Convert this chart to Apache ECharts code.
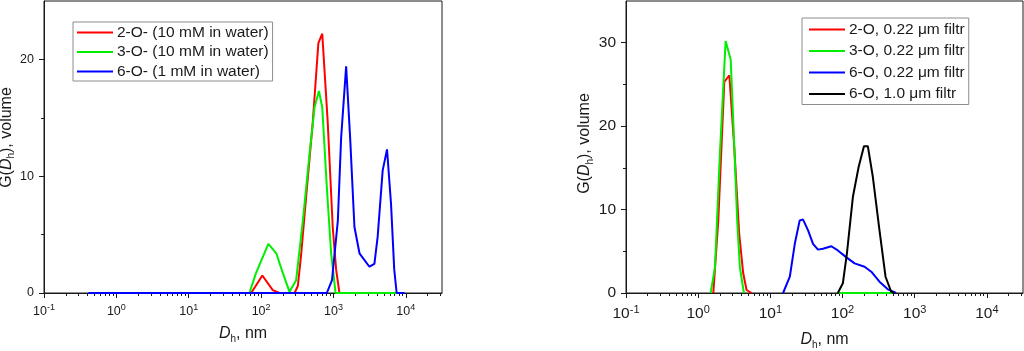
<!DOCTYPE html>
<html>
<head>
<meta charset="utf-8">
<script src="https://cdn.jsdelivr.net/npm/echarts@6/dist/echarts.min.js"></script>
<style>
  html, body { margin: 0; padding: 0; background: #fff; }
  #chart { width: 1024px; height: 351px; }
</style>
</head>
<body>
<div id="chart"></div>
<script>
// left panel: solutions in water (Dh in nm, G volume)
var leftRedD = [73, 104, 145, 180, 290, 322, 359, 420, 519, 619, 700, 832, 977, 1089, 1210];
var leftRedG = [0, 1.5, 0.25, 0, 0, 0.6, 3.4, 8.3, 14.7, 21.4, 22.2, 14.7, 5.65, 2.0, 0];
var leftGreenD = [69, 85, 126, 162, 200, 247, 305, 378, 467, 548, 630, 700, 809, 929, 1070, 7600];
var leftGreenG = [0, 1.7, 4.2, 3.4, 1.7, 0.1, 1.1, 6.2, 11.9, 15.9, 17.3, 15.9, 9.1, 3.4, 0, 0];
var leftBlueD = [0.41, 810, 955, 1150, 1277, 1497, 1700, 1950, 2290, 3140, 3680, 4080, 4790, 5500, 6250, 6920, 7470, 9600];
var leftBlueG = [0, 0, 1.1, 6.2, 13.3, 19.4, 13.3, 5.65, 3.4, 2.25, 2.5, 4.8, 10.5, 12.3, 7.6, 2, 0, 0];

// right panel: filtered samples
var rightRedD = [1.62, 1.9, 2.3, 2.7, 3.16, 3.7, 4.2, 4.68, 5.5];
var rightRedG = [0, 8.7, 25.3, 26.1, 17.5, 7.1, 2.4, 0.36, 0];
var rightGreenD = [1.49, 1.71, 2.0, 2.4, 2.82, 3.06, 3.47, 3.78, 4.3, 20, 90, 490];
var rightGreenG = [0, 3.1, 16.7, 30.2, 28, 20.7, 8.7, 3.1, 0, '-', 0, 0];
var rightBlueD = [15, 18.6, 21.8, 25.5, 28.4, 33.3, 39, 45.7, 53.5, 70, 86, 112, 147, 202, 250, 325, 424, 553];
var rightBlueG = [0, 1.95, 5.9, 8.7, 8.8, 7.5, 5.9, 5.2, 5.3, 5.6, 5.1, 4.3, 3.55, 3.15, 2.55, 1.35, 0.44, 0];
var rightBlackD = [86, 101, 115, 139, 167, 198, 224, 263, 325, 394, 472, 525];
var rightBlackG = [0, 1.16, 4.75, 11.5, 15.1, 17.6, 17.6, 13.9, 7.5, 1.95, 0.15, 0];

var leftNames = ['2-O- (10 mM in water)', '3-O- (10 mM in water)', '6-O- (1 mM in water)'];
var rightNames = ['2-O, 0.22 \u03bcm filtr', '3-O, 0.22 \u03bcm filtr', '6-O, 0.22 \u03bcm filtr', '6-O, 1.0 \u03bcm filtr'];

var xMajor = [0.1, 1, 10, 100, 1000, 10000];
var xMinor = [];
for (var p = -1; p <= 4; p++) {
  for (var k = 2; k <= 9; k++) {
    var v = k * Math.pow(10, p);
    if (v < 31000) xMinor.push(+v.toPrecision(3));
  }
}
var leftYMajor = [0, 10, 20], leftYMinor = [5, 15];
var rightYMajor = [0, 10, 20, 30], rightYMinor = [5, 15, 25];

var FONT = 'Liberation Sans, Arial, sans-serif';
var INK = '#1a1a1a';

function pairs(d, g) {
  return d.map(function (x, i) { return [x, g[i]]; });
}

function expLabel(size, margin) {
  return {
    fontFamily: FONT, color: INK, fontSize: size, margin: margin,
    customValues: xMajor,
    formatter: function (v) {
      var e = Math.log(v) / Math.LN10;
      if (Math.abs(e - Math.round(e)) > 1e-6) return '';
      return '{b|10}{e|' + Math.round(e) + '}';
    },
    rich: {
      b: { fontFamily: FONT, color: INK, fontSize: size, lineHeight: size + 4 },
      e: { fontFamily: FONT, color: INK, fontSize: Math.round(size * 0.68), lineHeight: 8, verticalAlign: 'top' }
    }
  };
}

function nameRich(size) {
  return {
    fontFamily: FONT, color: INK, fontSize: size,
    rich: {
      n: { fontFamily: FONT, color: INK, fontSize: size, lineHeight: size + 4 },
      i: { fontFamily: FONT, color: INK, fontSize: size, fontStyle: 'italic', lineHeight: size + 4 },
      s: { fontFamily: FONT, color: INK, fontSize: Math.round(size * 0.62), lineHeight: 10, verticalAlign: 'bottom' }
    }
  };
}

function xAxes(grid, size, margin, gap) {
  var ns = nameRich(16);
  return [{
    type: 'log', logBase: 10, gridIndex: grid, min: 0.1, max: 31622.8, position: 'bottom',
    name: '{i|D}{s|h}{n|, nm}', nameLocation: 'middle', nameGap: gap, nameTextStyle: ns,
    axisLine: { lineStyle: { color: INK, width: 1 } },
    axisTick: { show: true, length: 5, customValues: xMajor, lineStyle: { color: INK } },
    axisLabel: expLabel(size, margin),
    splitLine: { show: false }
  }, {
    type: 'log', logBase: 10, gridIndex: grid, min: 0.1, max: 31622.8, position: 'bottom',
    axisLine: { show: false },
    axisTick: { show: true, length: 3, customValues: xMinor, lineStyle: { color: INK } },
    axisLabel: { show: false },
    splitLine: { show: false }
  }];
}

function yAxes(grid, max, major, minor, size, gap, shift) {
  var ns = nameRich(16);
  ns.padding = [0, 0, 0, shift];
  return [{
    type: 'value', gridIndex: grid, min: 0, max: max, interval: 5,
    name: '{n|G(}{i|D}{s|h}{n|), volume}', nameLocation: 'middle', nameGap: gap, nameRotate: 90,
    nameTextStyle: ns,
    axisLine: { show: true, lineStyle: { color: INK, width: 1 } },
    axisTick: { show: true, length: 5, customValues: major, lineStyle: { color: INK } },
    axisLabel: { fontFamily: FONT, color: INK, fontSize: size, margin: 10, customValues: major },
    splitLine: { show: false }
  }, {
    type: 'value', gridIndex: grid, min: 0, max: max, position: 'left',
    axisLine: { show: false },
    axisTick: { show: true, length: 3, customValues: minor, lineStyle: { color: INK } },
    axisLabel: { show: false },
    splitLine: { show: false }
  }];
}

function line(name, data, color, xi, yi) {
  return {
    name: name, type: 'line', xAxisIndex: xi, yAxisIndex: yi, data: data,
    symbol: 'none', showSymbol: false, connectNulls: false,
    itemStyle: { color: color },
    lineStyle: { color: color, width: 2 }
  };
}

function legendBox(names, left, top, gap, pad) {
  return {
    data: names, orient: 'vertical', left: left, top: top,
    icon: 'rect', itemWidth: 36, itemHeight: 2, itemGap: gap,
    padding: pad, borderColor: '#8c8c8c', borderWidth: 1, borderRadius: 0,
    backgroundColor: '#fff',
    textStyle: { fontFamily: FONT, color: INK, fontSize: 15.5, lineHeight: 19, padding: [0, 0, 0, -1] }
  };
}

var chart = echarts.init(document.getElementById('chart'), null, { renderer: 'canvas' });

var option = {
  animation: false,
  backgroundColor: '#fff',
  grid: [
    { left: 44, top: 1, width: 398, height: 292, outerBoundsMode: 'none', containLabel: false,
      show: true, borderColor: INK, borderWidth: 1, backgroundColor: 'transparent' },
    { left: 626, top: 1, width: 397, height: 292, outerBoundsMode: 'none', containLabel: false,
      show: true, borderColor: INK, borderWidth: 1, backgroundColor: 'transparent' }
  ],
  xAxis: xAxes(0, 12.5, 10, 31).concat(xAxes(1, 15.5, 11, 37)),
  yAxis: yAxes(0, 25, leftYMajor, leftYMinor, 12.5, 25, 19).concat(yAxes(1, 35, rightYMajor, rightYMinor, 15.5, 30, 7)),
  legend: [
    legendBox(leftNames, 73, 22, 0.5, [1, 4, 0, 4]),
    legendBox(rightNames, 802, 18, 2.5, [2, 4, 1, 7])
  ],
  series: [
    line(leftNames[0], pairs(leftRedD, leftRedG), '#ff0000', 0, 0),
    line(leftNames[1], pairs(leftGreenD, leftGreenG), '#00ee00', 0, 0),
    line(leftNames[2], pairs(leftBlueD, leftBlueG), '#0000ff', 0, 0),
    line(rightNames[0], pairs(rightRedD, rightRedG), '#ff0000', 2, 2),
    line(rightNames[1], pairs(rightGreenD, rightGreenG), '#00ee00', 2, 2),
    line(rightNames[2], pairs(rightBlueD, rightBlueG), '#0000ff', 2, 2),
    line(rightNames[3], pairs(rightBlackD, rightBlackG), '#000000', 2, 2)
  ]
};

chart.setOption(option);
</script>
</body>
</html>
